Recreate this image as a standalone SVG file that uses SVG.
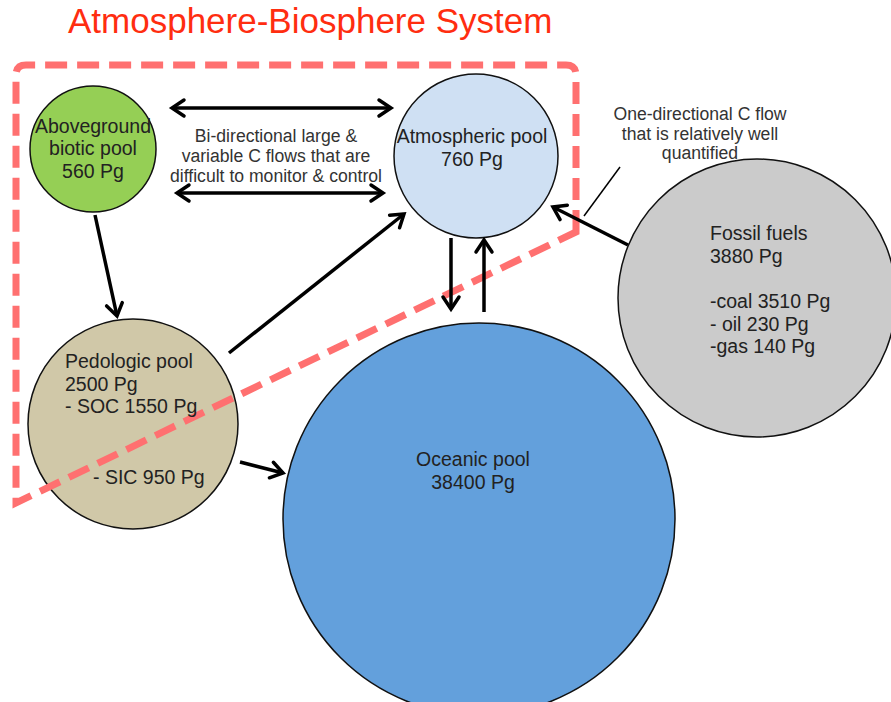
<svg xmlns="http://www.w3.org/2000/svg" width="891" height="702" viewBox="0 0 891 702">
<defs>
<style>
.node{stroke:#111;stroke-width:1.5}
.lbl{font-family:"Liberation Sans",Arial,sans-serif;font-size:19.5px;fill:#222}
.note{font-family:"Liberation Sans",Arial,sans-serif;font-size:17.6px;fill:#333}
.arr{stroke:#000;stroke-width:3.5;fill:none;marker-end:url(#ah)}
.bi{marker-start:url(#ah)}
</style>
<marker id="ah" viewBox="-16 -11 20 22" refX="0" refY="0" markerWidth="20" markerHeight="22" markerUnits="userSpaceOnUse" orient="auto-start-reverse">
<path d="M-12,-8 L0,0 L-12,8" fill="none" stroke="#000" stroke-width="3.5" stroke-linecap="round"/>
</marker>
</defs>
<rect width="891" height="702" fill="#fff"/>
<text x="68" y="33" font-family="'Liberation Sans',Arial,sans-serif" font-size="35" fill="#ff2d10">Atmosphere-Biosphere System</text>

<g id="ocean"><circle class="node" cx="479" cy="519" r="196" fill="#63a0dc"/></g>
<g id="fossil"><circle class="node" cx="757" cy="298" r="139" fill="#cbcbcb"/></g>
<g id="atmo"><circle class="node" cx="476" cy="156" r="82" fill="#cfe0f3"/></g>
<g id="above"><circle class="node" cx="93" cy="149" r="63" fill="#95cf55"/></g>
<g id="pedo"><circle class="node" cx="133" cy="424" r="105" fill="#d0c8a8"/></g>

<path id="boundary" d="M576,232 L576,75 Q576,65 566,65 L26,65 Q16,65 16,75 L16,503 Z" fill="none" stroke="#ff7070" stroke-width="7" stroke-dasharray="22 10"/>

<g id="labels">
<text class="lbl" text-anchor="middle"><tspan x="93" y="133">Aboveground</tspan><tspan x="93" y="155">biotic pool</tspan><tspan x="93" y="178">560 Pg</tspan></text>
<text class="lbl" text-anchor="middle"><tspan x="472" y="143">Atmospheric pool</tspan><tspan x="472" y="166">760 Pg</tspan></text>
<text class="lbl"><tspan x="65" y="368">Pedologic pool</tspan><tspan x="65" y="391">2500 Pg</tspan><tspan x="65" y="413">- SOC 1550 Pg</tspan><tspan x="93" y="484">- SIC 950 Pg</tspan></text>
<text class="lbl" text-anchor="middle"><tspan x="473" y="466">Oceanic pool</tspan><tspan x="473" y="489">38400 Pg</tspan></text>
<text class="lbl"><tspan x="710" y="240">Fossil fuels</tspan><tspan x="710" y="263">3880 Pg</tspan><tspan x="710" y="308">-coal 3510 Pg</tspan><tspan x="710" y="331">- oil 230 Pg</tspan><tspan x="710" y="353">-gas 140 Pg</tspan></text>
<text class="note" text-anchor="middle"><tspan x="276" y="142">Bi-directional large &amp;</tspan><tspan x="276" y="162">variable C flows that are</tspan><tspan x="276" y="182">difficult to monitor &amp; control</tspan></text>
<text class="note" text-anchor="middle"><tspan x="700" y="120">One-directional C flow</tspan><tspan x="700" y="140">that is relatively well</tspan><tspan x="700" y="159">quantified</tspan></text>
</g>

<g id="connectors">
<line class="arr bi" x1="172" y1="108" x2="391" y2="108"/>
<line class="arr bi" x1="177" y1="193" x2="383" y2="193"/>
<line class="arr" x1="95" y1="215" x2="117" y2="316"/>
<line class="arr" x1="229" y1="353" x2="404" y2="214"/>
<line class="arr" x1="240" y1="462" x2="283" y2="473"/>
<line class="arr" x1="451" y1="238" x2="451" y2="309"/>
<line class="arr" x1="484" y1="312" x2="484" y2="240"/>
<line class="arr" x1="628" y1="245" x2="553" y2="207"/>
<line x1="620" y1="167" x2="584" y2="216" stroke="#000" stroke-width="1.5"/>
</g>
</svg>
